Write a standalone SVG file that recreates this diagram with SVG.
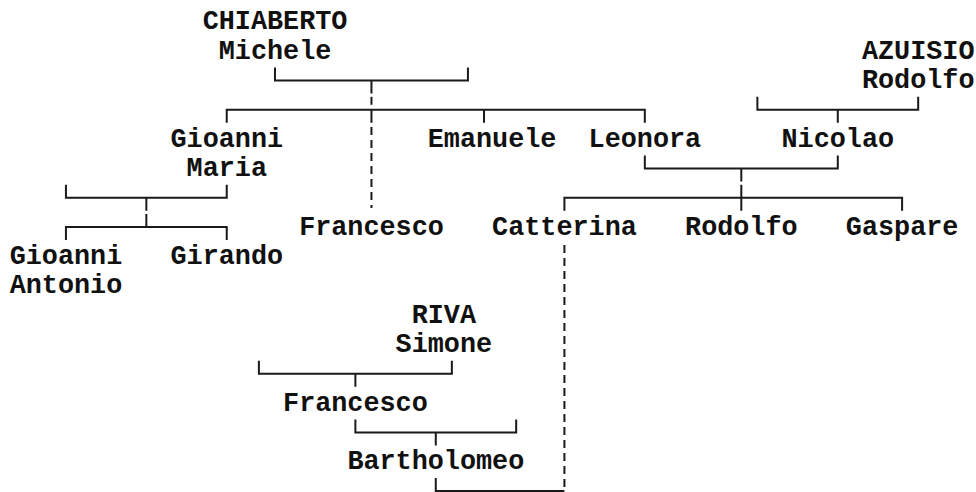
<svg xmlns="http://www.w3.org/2000/svg" width="976" height="492" viewBox="0 0 976 492">
<style>
text{font-family:"Liberation Mono","DejaVu Sans Mono",monospace;font-weight:bold;font-size:26.8px;fill:#111}
.c{stroke:#1a1a1a;stroke-width:2;fill:none}
.d{stroke:#1a1a1a;stroke-width:2;fill:none;stroke-dasharray:8 5}
</style>
<rect width="976" height="492" fill="#fff"/>
<g id="connectors">
<path class="c" d="M274.98,67.5V80.5H467.94V67.5M371.46,80.5V93.5"/>
<path class="d" d="M371.46,96.8V109.8"/>
<path class="c" d="M371.46,109.8V122.8"/>
<path class="d" d="M371.46,127V208"/>
<path class="c" d="M226.74,122.8V109.8H644.82V122.8M484.02,109.8V122.8"/>
<path class="c" d="M757.38,96.8V109.8H918.18V96.8M837.78,109.8V122.8"/>
<path class="c" d="M644.82,155.5V168.5H837.78V155.5M741.3,168.5V181.5"/>
<path class="c" d="M564.42,210.8V197.8H902.1V210.8M741.3,184.8V210.8"/>
<path class="c" d="M65.94,184.8V197.8H226.74V184.8M146.34,197.8V210.8"/>
<path class="c" d="M65.94,240.1V227.1H226.74V240.1M146.34,214.1V227.1"/>
<path class="d" d="M564.42,245V491.1"/>
<path class="c" d="M258.9,360.8V373.8H451.86V360.8M355.38,373.8V386.8"/>
<path class="c" d="M355.38,419.4V432.4H516.18V419.4M435.78,432.4V445.4"/>
<path class="c" d="M435.78,478.1V491.1H564.42"/>
</g>
<g id="chiaberto-michele"><text x="202.66" y="29.3">CHIABERTO</text><text x="218.74" y="58.6">Michele</text></g>
<g id="azuisio-rodolfo"><text x="861.94" y="58.6">AZUISIO</text><text x="861.94" y="88">Rodolfo</text></g>
<g id="gioanni-maria"><text x="170.5" y="146.6">Gioanni</text><text x="186.58" y="176">Maria</text></g>
<g id="emanuele"><text x="427.78" y="146.6">Emanuele</text></g>
<g id="leonora"><text x="588.58" y="146.6">Leonora</text></g>
<g id="nicolao"><text x="781.54" y="146.6">Nicolao</text></g>
<g id="francesco-1"><text x="299.14" y="234.6">Francesco</text></g>
<g id="catterina"><text x="492.1" y="234.6">Catterina</text></g>
<g id="rodolfo"><text x="685.06" y="234.6">Rodolfo</text></g>
<g id="gaspare"><text x="845.86" y="234.6">Gaspare</text></g>
<g id="gioanni-antonio"><text x="9.7" y="263.9">Gioanni</text><text x="9.7" y="293.3">Antonio</text></g>
<g id="girando"><text x="170.5" y="263.9">Girando</text></g>
<g id="riva-simone"><text x="411.7" y="322.6">RIVA</text><text x="395.62" y="351.9">Simone</text></g>
<g id="francesco-2"><text x="283.06" y="410.6">Francesco</text></g>
<g id="bartholomeo"><text x="347.38" y="469.3">Bartholomeo</text></g>
</svg>
